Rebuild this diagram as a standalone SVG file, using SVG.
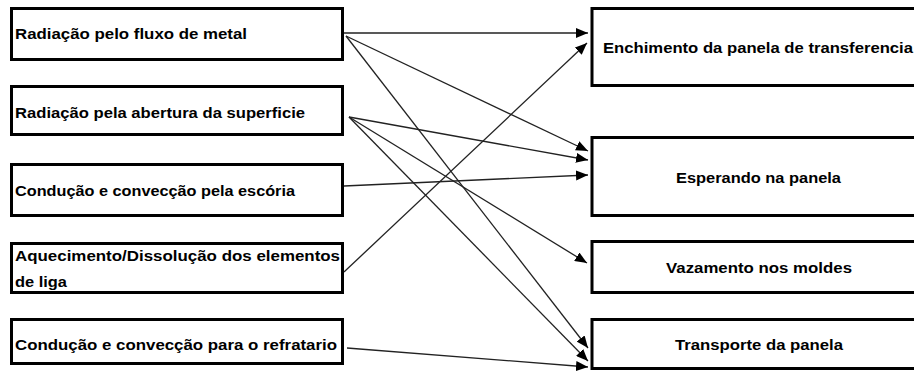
<svg xmlns="http://www.w3.org/2000/svg" width="914" height="371" viewBox="0 0 914 371">
<defs>
<marker id="ah" viewBox="0 0 12 10" refX="12" refY="5" markerWidth="12" markerHeight="10" markerUnits="userSpaceOnUse" orient="auto">
<path d="M0,0 L12,5 L0,10 z" fill="#000"/>
</marker>
<style>
.box{fill:#fff;stroke:#000;stroke-width:3}
.t{font-family:"Liberation Sans",Arial,sans-serif;font-weight:bold;font-size:15px;fill:#000}
.c{stroke:#222;stroke-width:1.3;fill:none;marker-end:url(#ah)}
</style>
</defs>
<rect width="914" height="371" fill="#fff"/>
<g id="n1"><rect class="box" x="11.5" y="8.5" width="331" height="51"/><text class="t" x="15" y="39" textLength="232" lengthAdjust="spacingAndGlyphs">Radiação pelo fluxo de metal</text></g>
<g id="n2"><rect class="box" x="11.5" y="86.5" width="331" height="48"/><text class="t" x="15" y="118" textLength="290" lengthAdjust="spacingAndGlyphs">Radiação pela abertura da superficie</text></g>
<g id="n3"><rect class="box" x="11.5" y="164.5" width="331" height="51"/><text class="t" x="15" y="196" textLength="280" lengthAdjust="spacingAndGlyphs">Condução e convecção pela escória</text></g>
<g id="n4"><rect class="box" x="11.5" y="243.5" width="331" height="49"/><text class="t" x="15" y="261" textLength="325" lengthAdjust="spacingAndGlyphs">Aquecimento/Dissolução dos elementos</text><text class="t" x="15" y="287" textLength="52" lengthAdjust="spacingAndGlyphs">de liga</text></g>
<g id="n5"><rect class="box" x="11.5" y="319.5" width="331" height="44"/><text class="t" x="15" y="350" textLength="322" lengthAdjust="spacingAndGlyphs">Condução e convecção para o refratario</text></g>
<g id="nA"><rect class="box" x="592" y="8.5" width="340" height="77"/><text class="t" x="603" y="53" textLength="310" lengthAdjust="spacingAndGlyphs">Enchimento da panela de transferencia</text></g>
<g id="nB"><rect class="box" x="592" y="137.5" width="340" height="78"/><text class="t" x="676" y="183" textLength="165" lengthAdjust="spacingAndGlyphs">Esperando na panela</text></g>
<g id="nC"><rect class="box" x="592" y="241.5" width="340" height="51"/><text class="t" x="666" y="273" textLength="186" lengthAdjust="spacingAndGlyphs">Vazamento nos moldes</text></g>
<g id="nD"><rect class="box" x="592" y="319.5" width="340" height="49"/><text class="t" x="675" y="350" textLength="168" lengthAdjust="spacingAndGlyphs">Transporte da panela</text></g>
<g id="connectors">
<line class="c" x1="344" y1="33" x2="588" y2="33"/>
<line class="c" x1="346" y1="36" x2="588" y2="151"/>
<line class="c" x1="346" y1="36" x2="588" y2="348"/>
<line class="c" x1="349" y1="117" x2="588" y2="160"/>
<line class="c" x1="349" y1="117" x2="587" y2="263"/>
<line class="c" x1="349" y1="117" x2="588" y2="361"/>
<line class="c" x1="344" y1="186" x2="588" y2="175"/>
<line class="c" x1="344" y1="272" x2="587" y2="43"/>
<line class="c" x1="347" y1="348" x2="588" y2="367"/>
</g>
</svg>
